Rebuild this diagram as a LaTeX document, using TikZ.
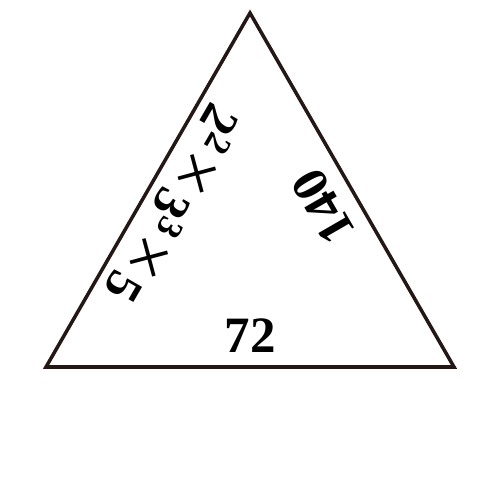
\documentclass[tikz,border=0pt]{standalone}
\usepackage{fontspec}
\setmainfont{Liberation Serif}
\usetikzlibrary{calc}
\definecolor{edgeink}{HTML}{231815}
\newcommand{\mult}{\hspace{3pt}{\mdseries\fontsize{42}{42}\selectfont ×}\hspace{3pt}}
\tikzset{
  side/.style={draw=edgeink, line width=2pt, line join=miter},
  factor/.style={font=\fontsize{29}{30}\selectfont\bfseries, inner sep=0pt}
}
\begin{document}
\begin{tikzpicture}
  \useasboundingbox (0,0) rectangle (10,10);
  % 三角形顶点
  \coordinate (A) at (5,9.74);
  \coordinate (B) at (0.92,2.66);
  \coordinate (C) at (9.08,2.66);
  \draw[side] (A) -- (B) -- (C) -- cycle;

  % 各边中点
  \coordinate (mBC) at ($(B)!0.5!(C)$);
  \coordinate (mCA) at ($(C)!0.5!(A)$);
  \coordinate (mAB) at ($(A)!0.5!(B)$);

  % 边上的数字
  \node[factor] (base) at ($(mBC)!0.62cm!90:(C)$) {72};
  \node[factor, rotate=120] (right) at ($(mCA)!0.66cm!90:(A)$) {140};
  \node[factor, rotate=240] (left) at ($(mAB)!0.60cm!90:(B)$)
    {2\textsuperscript{2}\mult 3\textsuperscript{3}\mult 5};
\end{tikzpicture}
\end{document}
